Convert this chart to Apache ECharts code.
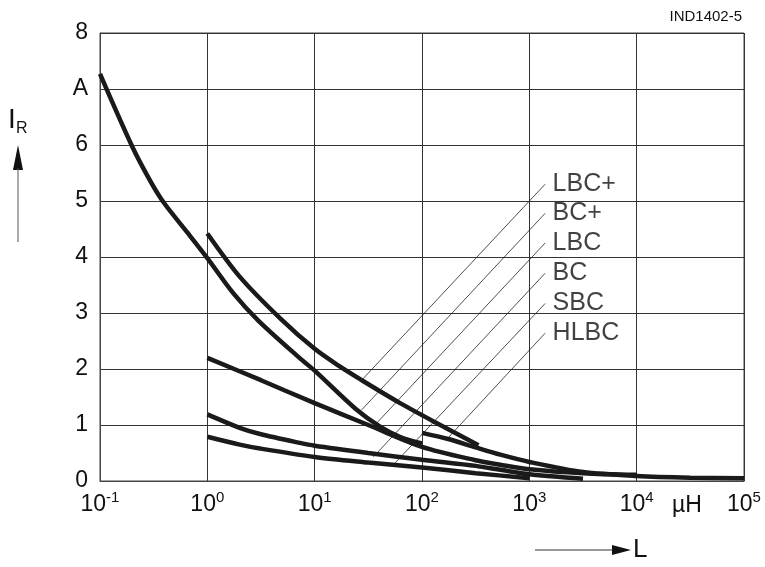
<!DOCTYPE html>
<html><head><meta charset="utf-8">
<script src="https://cdn.jsdelivr.net/npm/echarts@6/dist/echarts.min.js"></script>
<style>html,body{margin:0;padding:0;background:#fff}#c{width:765px;height:567px}</style>
</head><body><div id="c"></div>
<script>
// ---- data ----
const yTickLabels = ['0','1','2','3','4','5','6','A','8'];
const curveNames = ['LBC+','BC+','LBC','BC','SBC','HLBC'];

const lbcPlusX = [1, 2, 4.8, 10, 17, 27.4, 62.5, 148, 336];
const lbcPlusY = [4.42, 3.65, 2.90, 2.36, 2.05, 1.80, 1.39, 1.00, 0.64];

const bcPlusX = [0.1, 0.2, 0.3, 0.4, 0.65, 1, 1.75, 3, 7.3, 10, 24, 40, 62, 100];
const bcPlusY = [7.27, 5.97, 5.33, 4.95, 4.44, 3.98, 3.35, 2.86, 2.19, 1.97, 1.29, 0.98, 0.79, 0.67];

const lbcX = [1, 3.16, 10, 31.6, 100, 316, 537, 1000, 3162, 10000];
const lbcY = [2.20, 1.80, 1.39, 1.00, 0.61, 0.37, 0.29, 0.21, 0.14, 0.11];

const bcX = [1, 2, 3.1, 7.3, 10, 31.6, 100, 316, 537, 1000, 3162];
const bcY = [1.19, 0.95, 0.84, 0.68, 0.63, 0.50, 0.38, 0.27, 0.20, 0.12, 0.04];

const sbcX = [1, 2, 3.1, 10, 31.6, 100, 316, 1000];
const sbcY = [0.79, 0.65, 0.58, 0.43, 0.33, 0.24, 0.14, 0.05];

const hlbcX = [100, 175, 316, 537, 1000, 3162, 10000, 31623, 100000];
const hlbcY = [0.86, 0.75, 0.60, 0.47, 0.34, 0.16, 0.09, 0.06, 0.05];

// leader lines: upper (label) end and lower (curve) end
const leaderTopX = [1403, 1403, 1403, 1403, 1403, 1403];
const leaderTopY = [5.30, 4.78, 4.25, 3.71, 3.17, 2.64];
const leaderEndX = [27.4, 27.4, 35.2, 35.2, 54.1, 175];
const leaderEndY = [1.80, 1.27, 0.97, 0.43, 0.29, 0.77];

// ---- chart ----
const FONT = '"Liberation Sans", Arial, Helvetica, sans-serif';
const curvesX = [lbcPlusX, bcPlusX, lbcX, bcX, sbcX, hlbcX];
const curvesY = [lbcPlusY, bcPlusY, lbcY, bcY, sbcY, hlbcY];

const series = [];
curveNames.forEach((n, i) => {
  series.push({
    name: n, type: 'line', smooth: 0.3, symbol: 'none',
    lineStyle: {color: '#1a1a1a', width: 4.5, cap: 'butt'},
    data: curvesX[i].map((x, k) => [x, curvesY[i][k]]),
    z: 5
  });
  series.push({
    name: n + '-leader', type: 'line', symbol: 'none',
    lineStyle: {color: '#222', width: 0.8},
    data: [[leaderTopX[i], leaderTopY[i]], [leaderEndX[i], leaderEndY[i]]],
    z: 4
  });
});
series.push({
  type: 'scatter', symbolSize: 1, itemStyle: {color: 'rgba(0,0,0,0)'},
  data: curveNames.map((n, i) => ({value: [leaderTopX[i], leaderTopY[i]], name: n})),
  label: {show: true, position: 'right', distance: 7, formatter: p => p.name,
          color: '#111', fontSize: 25, fontFamily: FONT},
  z: 6
});

const chart = echarts.init(document.getElementById('c'), null, {renderer: 'canvas'});
chart.setOption({
  animation: false,
  backgroundColor: '#fff',
  grid: {left: 100, right: 21, top: 33, bottom: 86, show: true, borderColor: '#444', borderWidth: 1},
  xAxis: {
    type: 'log', logBase: 10, min: 0.1, max: 100000, interval: 1,
    axisLine: {show: true, lineStyle: {color: '#444', width: 1}},
    axisTick: {show: false},
    splitLine: {show: true, lineStyle: {color: '#333', width: 1}},
    axisLabel: {
      margin: 9, color: '#111', fontFamily: FONT,
      formatter: v => '{b|10}{s|' + Math.round(Math.log10(v)) + '}',
      rich: {
        b: {fontSize: 23, lineHeight: 30, fontFamily: FONT, color: '#111'},
        s: {fontSize: 15, verticalAlign: 'top', fontFamily: FONT, color: '#111'}
      }
    }
  },
  yAxis: {
    type: 'value', min: 0, max: 8, interval: 1,
    axisLine: {show: true, lineStyle: {color: '#444', width: 1}},
    axisTick: {show: false},
    splitLine: {show: true, lineStyle: {color: '#333', width: 1}},
    axisLabel: {margin: 12, color: '#111', fontSize: 23, fontFamily: FONT,
                formatter: v => yTickLabels[Math.round(v)]}
  },
  graphic: [
    {type: 'text', right: 23, top: 9, style: {text: 'IND1402-5', font: '15px ' + FONT, fill: '#111'}},
    {type: 'text', left: 672, top: 494, style: {text: 'µH', font: '23px ' + FONT, fill: '#111'}},
    {type: 'text', left: 8, top: 106, style: {text: 'I', font: '28px ' + FONT, fill: '#111'}},
    {type: 'text', left: 16, top: 121, style: {text: 'R', font: '16px ' + FONT, fill: '#111'}},
    {type: 'polygon', shape: {points: [[13, 170], [23, 170], [18, 145]]}, style: {fill: '#111'}},
    {type: 'line', shape: {x1: 18, y1: 168, x2: 18, y2: 242}, style: {stroke: '#555', lineWidth: 1}},
    {type: 'line', shape: {x1: 535, y1: 550, x2: 614, y2: 550}, style: {stroke: '#333', lineWidth: 1}},
    {type: 'polygon', shape: {points: [[612, 545], [612, 555], [631, 550]]}, style: {fill: '#111'}},
    {type: 'text', left: 633, top: 537, style: {text: 'L', font: '26px ' + FONT, fill: '#111'}}
  ],
  series: series
});
</script>
</body></html>
